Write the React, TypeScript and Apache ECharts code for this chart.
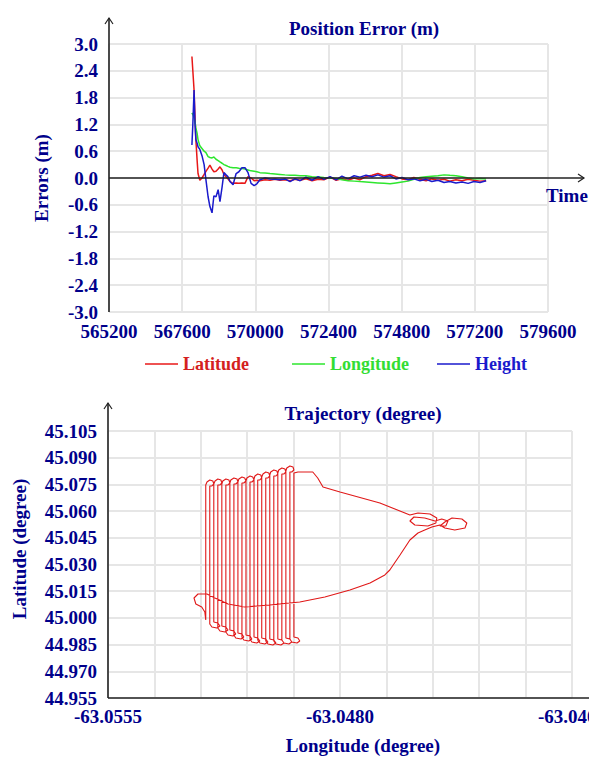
import React, { useEffect, useRef } from 'react';
import * as echarts from 'echarts';

// ---------- Position error data (time in s, errors in m) ----------
const timeValues = [
  567920, 567950, 567990, 568020, 568050, 568090, 568120, 568180, 568250, 568320,
  568380, 568450, 568510, 568580, 568640, 568710, 568780, 568840, 568910, 568970,
  569040, 569100, 569170, 569270, 569370, 569460, 569560, 569660, 569760, 569860,
  569960, 570050, 570150, 570320, 570480, 570650, 570810, 570970, 571140, 571300,
  571470, 571660, 571860, 572060, 572250, 572450, 572650, 572840, 573040, 573240,
  573430, 573630, 573830, 574020, 574220, 574420, 574610, 574810, 575010, 575200,
  575400, 575600, 575790, 575990, 576190, 576380, 576580, 576780, 576980, 577170,
  577370, 577570,
];
const latitudeErr = [
  2.72, 2.4, 1.97, 1.4, 0.85, 0.4, 0.1, -0.05, 0.0, 0.08,
  0.15, 0.22, 0.29, 0.2, 0.14, 0.15, 0.2, 0.25, 0.18, 0.08,
  0.03, -0.02, -0.08, -0.12, -0.11, -0.12, -0.11, -0.12, 0.03, 0.0,
  -0.06, -0.05, -0.06, -0.04, -0.05, -0.03, -0.05, -0.04, -0.06, -0.03,
  -0.05, -0.02, -0.06, -0.03, -0.04, 0.02, -0.05, -0.02, -0.05, 0.0,
  -0.04, 0.03, 0.06, 0.1, 0.05, 0.08, 0.03, -0.02, -0.04, 0.01,
  -0.03, -0.06, -0.02, -0.05, -0.03, -0.07, -0.04, -0.06, -0.03, -0.05,
  -0.07, -0.06,
];
const longitudeErr = [
  1.46, 1.42, 1.35, 1.25, 1.12, 1.0, 0.86, 0.72, 0.66, 0.6,
  0.57, 0.48, 0.46, 0.45, 0.47, 0.42, 0.39, 0.36, 0.33, 0.3,
  0.28, 0.26, 0.24, 0.23, 0.23, 0.22, 0.21, 0.2, 0.18, 0.16,
  0.15, 0.14, 0.12, 0.11, 0.1, 0.09, 0.08, 0.07, 0.06, 0.06,
  0.05, 0.05, 0.03, 0.02, 0.01, 0.0, -0.01, -0.04, -0.06, -0.07,
  -0.08, -0.09, -0.1, -0.11, -0.12, -0.13, -0.11, -0.09, -0.07, -0.03,
  0.01, 0.03, 0.04, 0.05, 0.07, 0.06, 0.05, 0.03, 0.0, -0.02,
  -0.01, -0.02,
];
const heightErr = [
  0.74, 1.2, 1.97, 1.23, 0.86, 0.78, 0.7, 0.64, 0.5, 0.3,
  -0.04, -0.42, -0.64, -0.78, -0.4, -0.42, -0.26, -0.53, -0.2, 0.12,
  0.07, 0.03, -0.08, -0.15, 0.1, 0.14, 0.23, 0.23, 0.12, -0.12,
  -0.17, -0.13, -0.04, 0.0, -0.02, -0.03, -0.04, -0.02, -0.08, -0.02,
  -0.06, 0.02, -0.05, 0.03, -0.03, 0.03, -0.04, 0.04, -0.02, 0.05,
  0.02, 0.06, 0.03, 0.07, 0.02, 0.05, -0.02, 0.01, -0.04, -0.02,
  -0.06, -0.03, -0.08, -0.05, -0.1, -0.08, -0.11, -0.09, -0.12, -0.08,
  -0.1, -0.06,
];

// ---------- Trajectory (degrees) ----------
const trackLon = [
  -63.05234, -63.05234, -63.05230, -63.05221, -63.05211, -63.05208, -63.05214, -63.05221,
  -63.05221, -63.05214, -63.05198, -63.05188, -63.05195, -63.05208,
  -63.05208, -63.05204, -63.05195, -63.05185, -63.05182, -63.05188, -63.05195,
  -63.05195, -63.05188, -63.05172, -63.05162, -63.05169, -63.05182,
  -63.05182, -63.05179, -63.05169, -63.05159, -63.05156, -63.05162, -63.05169,
  -63.05169, -63.05162, -63.05146, -63.05137, -63.05143, -63.05156,
  -63.05156, -63.05153, -63.05143, -63.05133, -63.05130, -63.05137, -63.05143,
  -63.05143, -63.05137, -63.05120, -63.05111, -63.05117, -63.05130,
  -63.05130, -63.05127, -63.05117, -63.05108, -63.05104, -63.05111, -63.05117,
  -63.05117, -63.05111, -63.05095, -63.05085, -63.05091, -63.05104,
  -63.05104, -63.05101, -63.05091, -63.05082, -63.05078, -63.05085, -63.05091,
  -63.05091, -63.05085, -63.05069, -63.05059, -63.05066, -63.05078,
  -63.05078, -63.05075, -63.05066, -63.05056, -63.05053, -63.05059, -63.05066,
  -63.05066, -63.05059, -63.05043, -63.05033, -63.05040, -63.05053,
  -63.05053, -63.05049, -63.05040, -63.05030, -63.05027, -63.05033, -63.05040,
  -63.05040, -63.05033, -63.05017, -63.05007, -63.05014, -63.05027,
  -63.05027, -63.05024, -63.05014, -63.05004, -63.05001, -63.05007, -63.05014,
  -63.05014, -63.05007, -63.04991, -63.04981, -63.04988, -63.05001,
  -63.05001, -63.04998, -63.04988, -63.04978, -63.04975, -63.04981, -63.04988,
  -63.04988, -63.04981, -63.04965, -63.04956, -63.04962, -63.04975,
  -63.04975, -63.04972, -63.04962, -63.04952, -63.04949, -63.04956, -63.04962,
  -63.04962, -63.04956, -63.04939, -63.04930, -63.04936, -63.04949,
  -63.04949, -63.04936, -63.04888, -63.04872, -63.04855, -63.04800, -63.04671, -63.04574,
  -63.04548, -63.04509, -63.04487, -63.04490, -63.04516, -63.04558, -63.04574, -63.04561,
  -63.04526, -63.04493, -63.04471, -63.04451, -63.04458, -63.04477, -63.04461, -63.04438,
  -63.04406, -63.04390, -63.04396, -63.04429, -63.04461, -63.04477, -63.04503,
  -63.04526, -63.04548, -63.04574, -63.04606, -63.04639, -63.04655, -63.04703, -63.04768,
  -63.04849, -63.04930, -63.05027, -63.05108, -63.05162, -63.05204, -63.05230, -63.05259,
  -63.05272, -63.05266, -63.05247, -63.05237, -63.05234,
];
const trackLat = [
  44.99882, 45.07467, 45.07635, 45.07748, 45.07691, 45.07523, 45.07411, 45.07411,
  44.99658, 44.99489, 44.99433, 44.99545, 44.99714, 44.99770,
  45.07523, 45.07691, 45.07804, 45.07748, 45.07579, 45.07467, 45.07467,
  44.99433, 44.99264, 44.99208, 44.99320, 44.99489, 44.99545,
  45.07523, 45.07691, 45.07804, 45.07748, 45.07579, 45.07467, 45.07467,
  44.99208, 44.99039, 44.98983, 44.99096, 44.99264, 44.99320,
  45.07579, 45.07748, 45.07860, 45.07804, 45.07635, 45.07523, 45.07523,
  44.99039, 44.98871, 44.98814, 44.98927, 44.99096, 44.99152,
  45.07635, 45.07804, 45.07916, 45.07860, 45.07691, 45.07579, 45.07579,
  44.98927, 44.98759, 44.98702, 44.98814, 44.98983, 44.99039,
  45.07691, 45.07860, 45.07972, 45.07916, 45.07748, 45.07635, 45.07635,
  44.98814, 44.98646, 44.98590, 44.98702, 44.98871, 44.98927,
  45.07804, 45.07972, 45.08085, 45.08029, 45.07860, 45.07748, 45.07748,
  44.98759, 44.98590, 44.98534, 44.98646, 44.98814, 44.98871,
  45.07916, 45.08085, 45.08197, 45.08141, 45.07972, 45.07860, 45.07860,
  44.98702, 44.98534, 44.98477, 44.98590, 44.98759, 44.98814,
  45.08029, 45.08197, 45.08309, 45.08253, 45.08085, 45.07972, 45.07972,
  44.98702, 44.98534, 44.98477, 44.98590, 44.98759, 44.98814,
  45.08141, 45.08309, 45.08422, 45.08366, 45.08197, 45.08085, 45.08085,
  44.98759, 44.98590, 44.98534, 44.98646, 44.98814, 44.98871,
  45.08253, 45.08422, 45.08534, 45.08478, 45.08309, 45.08197, 45.08197,
  44.98814, 44.98646, 44.98590, 44.98702, 44.98871, 44.98927,
  45.08141, 45.08197, 45.08197, 45.07860, 45.07354, 45.07073, 45.06456, 45.05781,
  45.05894, 45.05838, 45.05613, 45.05332, 45.05163, 45.05220, 45.05444, 45.05669,
  45.05613, 45.05444, 45.05557, 45.05444, 45.05163, 45.05163, 45.05388, 45.05613,
  45.05557, 45.05332, 45.05051, 45.04939, 45.05051, 45.05220, 45.05107,
  45.04939, 45.04770, 45.04377, 45.03534, 45.02691, 45.02411, 45.01961, 45.01568,
  45.01175, 45.00894, 45.00725, 45.00613, 45.00781, 45.01118, 45.01343, 45.01343,
  45.01118, 45.00781, 45.00613, 45.00332, 44.99882,
];

// ---------- Axis ranges ----------
const TIME_MIN = 565200;
const TIME_MAX = 579600;
const TIME_STEP = 2400;
const ERR_MIN = -3;
const ERR_MAX = 3;
const ERR_STEP = 0.6;
const LON_MIN = -63.0555;
const LON_MAX = -63.0405;
const LON_GRID_STEP = 0.0015;
const LON_LABEL_STEP = 0.0075;
const LAT_MIN = 44.955;
const LAT_MAX = 45.105;
const LAT_STEP = 0.015;

const FONT = '"Liberation Serif", "Times New Roman", serif';
const NAVY = '#00008b';
const AXIS_DARK = '#222222';
const GRID_GRAY = '#e6e6e6';

const LON_SCALE = 10000; // 1 unit = 0.0001 deg
const LAT_SCALE = 1000; // 1 unit = 0.001 deg

export default function App() {
  const ref = useRef<HTMLDivElement | null>(null);

  useEffect(() => {
    if (!ref.current) return;
    const chart = echarts.init(ref.current, undefined, { renderer: 'svg' });

    const labelStyle = {
      color: NAVY,
      fontFamily: FONT,
      fontWeight: 'bold' as const,
      fontSize: 19,
    };
    const splitLine = { show: true, lineStyle: { color: GRID_GRAY, width: 2 } };

    const lonSpan = Math.round((LON_MAX - LON_MIN) * LON_SCALE);
    const lonGrid = Math.round(LON_GRID_STEP * LON_SCALE);
    const lonLabel = Math.round(LON_LABEL_STEP * LON_SCALE);
    const latSpan = Math.round((LAT_MAX - LAT_MIN) * LAT_SCALE);
    const latGrid = Math.round(LAT_STEP * LAT_SCALE);

    const legendBase = {
      top: 355,
      icon: 'rect',
      itemWidth: 33,
      itemHeight: 1.5,
      selectedMode: false,
      padding: 0,
      textStyle: { fontFamily: FONT, fontWeight: 'bold' as const, fontSize: 18 },
    };

    const option: any = {
      animation: false,
      grid: [
        { left: 109, top: 44, width: 439, height: 268, outerBoundsMode: 'none', containLabel: false },
        { left: 108, top: 431, width: 464, height: 267, outerBoundsMode: 'none', containLabel: false },
      ],
      xAxis: [
        {
          type: 'value',
          gridIndex: 0,
          min: 0,
          max: TIME_MAX - TIME_MIN,
          interval: TIME_STEP,
          axisLine: { show: false, onZero: false },
          axisTick: { show: false },
          splitLine,
          axisLabel: {
            ...labelStyle,
            margin: 10,
            formatter: (v: number) => String(Math.round(v + TIME_MIN)),
          },
        },
        {
          type: 'value',
          gridIndex: 1,
          min: 0,
          max: lonSpan,
          interval: lonGrid,
          axisLine: { show: false, onZero: false },
          axisTick: { show: false },
          splitLine,
          axisLabel: {
            ...labelStyle,
            margin: 9,
            formatter: (v: number) => {
              const r = Math.round(v);
              return r % lonLabel === 0 ? (LON_MIN + r / LON_SCALE).toFixed(4) : '';
            },
          },
        },
      ],
      yAxis: [
        {
          type: 'value',
          gridIndex: 0,
          min: ERR_MIN,
          max: ERR_MAX,
          interval: ERR_STEP,
          axisLine: { show: false },
          axisTick: { show: false },
          splitLine,
          axisLabel: {
            ...labelStyle,
            margin: 11,
            formatter: (v: number) => (Math.abs(v) < 1e-9 ? '0.0' : v.toFixed(1)),
          },
        },
        {
          type: 'value',
          gridIndex: 1,
          min: 0,
          max: latSpan,
          interval: latGrid,
          axisLine: { show: false },
          axisTick: { show: false },
          splitLine,
          axisLabel: {
            ...labelStyle,
            margin: 11,
            formatter: (v: number) => (LAT_MIN + Math.round(v) / LAT_SCALE).toFixed(3),
          },
        },
      ],
      legend: [
        { ...legendBase, left: 145, data: [{ name: 'Latitude', textStyle: { color: '#d42020' } }] },
        { ...legendBase, left: 292, data: [{ name: 'Longitude', textStyle: { color: '#33dd33' } }] },
        { ...legendBase, left: 437, data: [{ name: 'Height', textStyle: { color: '#1a1acc' } }] },
      ],
      series: [
        {
          name: 'Latitude',
          type: 'line',
          xAxisIndex: 0,
          yAxisIndex: 0,
          symbol: 'none',
          showSymbol: false,
          color: '#e81818',
          lineStyle: { width: 1.5, color: '#e81818' },
          data: timeValues.map((t, i) => [t - TIME_MIN, latitudeErr[i]]),
        },
        {
          name: 'Longitude',
          type: 'line',
          xAxisIndex: 0,
          yAxisIndex: 0,
          symbol: 'none',
          showSymbol: false,
          color: '#2ee62e',
          lineStyle: { width: 1.5, color: '#2ee62e' },
          data: timeValues.map((t, i) => [t - TIME_MIN, longitudeErr[i]]),
        },
        {
          name: 'Height',
          type: 'line',
          xAxisIndex: 0,
          yAxisIndex: 0,
          symbol: 'none',
          showSymbol: false,
          color: '#1a1acc',
          lineStyle: { width: 1.5, color: '#1a1acc' },
          data: timeValues.map((t, i) => [t - TIME_MIN, heightErr[i]]),
        },
        {
          name: 'Trajectory',
          type: 'line',
          xAxisIndex: 1,
          yAxisIndex: 1,
          symbol: 'none',
          showSymbol: false,
          color: '#e01818',
          lineStyle: { width: 1.1, color: '#e01818' },
          data: trackLon.map((lon, i) => [
            (lon - LON_MIN) * LON_SCALE,
            (trackLat[i] - LAT_MIN) * LAT_SCALE,
          ]),
        },
      ],
    };

    chart.setOption(option);

    // axis decorations (lines with open arrows) placed from the grids' pixel positions
    const tl0 = chart.convertToPixel({ gridIndex: 0 } as any, [0, ERR_MAX]) as number[];
    const bl0 = chart.convertToPixel({ gridIndex: 0 } as any, [0, ERR_MIN]) as number[];
    const z0 = chart.convertToPixel({ gridIndex: 0 } as any, [0, 0]) as number[];
    const tl1 = chart.convertToPixel({ gridIndex: 1 } as any, [0, latSpan]) as number[];
    const bl1 = chart.convertToPixel({ gridIndex: 1 } as any, [0, 0]) as number[];

    const axisStroke = { stroke: AXIS_DARK, lineWidth: 1.6, fill: 'none' };
    const arrowStroke = { stroke: AXIS_DARK, lineWidth: 1.2, fill: 'none' };
    const textStyle = (text: string, align: string) => ({
      text,
      fill: NAVY,
      font: `bold 19px ${FONT}`,
      align,
      verticalAlign: 'middle',
    });

    const topArrowY0 = tl0[1] - 26;
    const topArrowY1 = tl1[1] - 28;
    const zeroEnd = 584;

    chart.setOption({
      graphic: [
        // top chart y axis
        { type: 'line', shape: { x1: tl0[0], y1: bl0[1], x2: tl0[0], y2: topArrowY0 }, style: axisStroke, z: 50 },
        {
          type: 'polyline',
          shape: { points: [[tl0[0] - 4, topArrowY0 + 6], [tl0[0], topArrowY0], [tl0[0] + 4, topArrowY0 + 6]] },
          style: arrowStroke,
          z: 50,
        },
        // top chart zero line (time axis)
        { type: 'line', shape: { x1: z0[0], y1: z0[1], x2: zeroEnd, y2: z0[1] }, style: { ...axisStroke, lineWidth: 1.4 }, z: 5 },
        {
          type: 'polyline',
          shape: { points: [[zeroEnd - 6, z0[1] - 4], [zeroEnd, z0[1]], [zeroEnd - 6, z0[1] + 4]] },
          style: arrowStroke,
          z: 50,
        },
        // bottom chart y axis
        { type: 'line', shape: { x1: tl1[0], y1: bl1[1], x2: tl1[0], y2: topArrowY1 }, style: axisStroke, z: 50 },
        {
          type: 'polyline',
          shape: { points: [[tl1[0] - 4, topArrowY1 + 6], [tl1[0], topArrowY1], [tl1[0] + 4, topArrowY1 + 6]] },
          style: arrowStroke,
          z: 50,
        },
        // bottom chart x axis
        { type: 'line', shape: { x1: bl1[0], y1: bl1[1], x2: 600, y2: bl1[1] }, style: axisStroke, z: 50 },
        // titles and axis names
        { type: 'text', x: 364, y: 28, style: textStyle('Position Error (m)', 'center'), z: 60 },
        { type: 'text', x: 41, y: 178, rotation: Math.PI / 2, style: textStyle('Errors (m)', 'center'), z: 60 },
        { type: 'text', x: 546, y: 195, style: textStyle('Time', 'left'), z: 60 },
        { type: 'text', x: 363, y: 413, style: textStyle('Trajectory (degree)', 'center'), z: 60 },
        { type: 'text', x: 19, y: 549, rotation: Math.PI / 2, style: textStyle('Latitude (degree)', 'center'), z: 60 },
        { type: 'text', x: 363, y: 745, style: textStyle('Longitude (degree)', 'center'), z: 60 },
      ],
    });

    return () => {
      chart.dispose();
    };
  }, []);

  return (
    <div
      ref={ref}
      style={{ position: 'absolute', left: 0, top: 0, width: 589, height: 757, background: '#ffffff' }}
    />
  );
}
